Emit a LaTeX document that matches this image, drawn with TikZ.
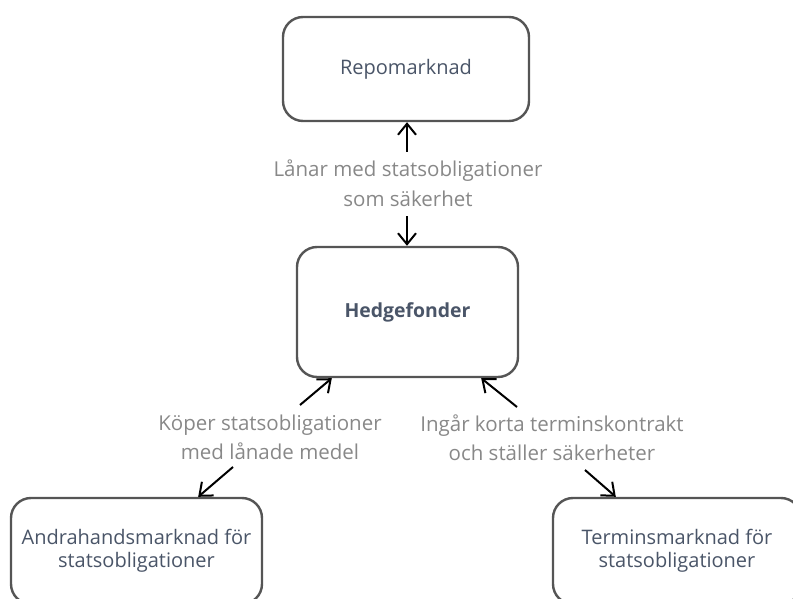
\documentclass[tikz,border=0pt]{standalone}
\usepackage{fontspec}
\setmainfont{Open Sans}
\usetikzlibrary{arrows.meta}
\definecolor{boxline}{HTML}{555555}
\definecolor{boxtext}{HTML}{4A5568}
\definecolor{labeltext}{HTML}{888888}
\tikzset{
  box/.style={draw=boxline, line width=2.4pt, rounded corners=20pt, fill=white,
    text=boxtext, align=center, inner sep=0pt,
    font=\fontsize{20}{23}\selectfont},
  lbl/.style={text=labeltext, align=center, inner sep=0pt,
    font=\fontsize{20.5}{29.5}\selectfont},
  arr/.style={draw=black, line width=2pt, -{Straight Barb[length=11pt,width=18pt,line width=2pt]}}
}
\begin{document}
\begin{tikzpicture}[x=1pt,y=-1pt]
\useasboundingbox (0,0) rectangle (793,599);
\clip (0,0) rectangle (793,599);
\node[box, minimum width=246pt, minimum height=104pt] (repo) at (406,69) {Repomarknad};
\node[box, minimum width=221pt, minimum height=130pt, font=\fontsize{19.4}{23}\selectfont\bfseries] (hedge) at (407.5,312) {Hedgefonder};
\node[box, minimum width=251pt, minimum height=106pt] (andra) at (136.5,551) {Andrahandsmarknad för\\statsobligationer};
\node[box, minimum width=248pt, minimum height=106pt] (termin) at (677,551) {Terminsmarknad för\\statsobligationer};

\node[lbl] (lanar) at (408,183) {Lånar med statsobligationer\\som säkerhet};
\node[lbl] (koper) at (270,437.5) {Köper statsobligationer\\med lånade medel};
\node[lbl] (ingar) at (552,437.5) {Ingår korta terminskontrakt\\och ställer säkerheter};

\coordinate (lanarTop) at (407,152);
\coordinate (lanarBot) at (407,216);
\coordinate (koperTop) at (300,405);
\coordinate (koperBot) at (233,467);
\coordinate (ingarTop) at (517,407);
\coordinate (ingarBot) at (585,470);

\draw[arr] (lanarTop) -- (lanarTop |- repo.south);
\draw[arr] (lanarBot) -- (lanarBot |- hedge.north);
\draw[arr] (koperTop) -- ([xshift=36pt]hedge.south west);
\draw[arr] (koperBot) -- ([xshift=-65pt]andra.north east);
\draw[arr] (ingarTop) -- ([xshift=-38pt]hedge.south east);
\draw[arr] (ingarBot) -- ([xshift=64pt]termin.north west);
\end{tikzpicture}
\end{document}
